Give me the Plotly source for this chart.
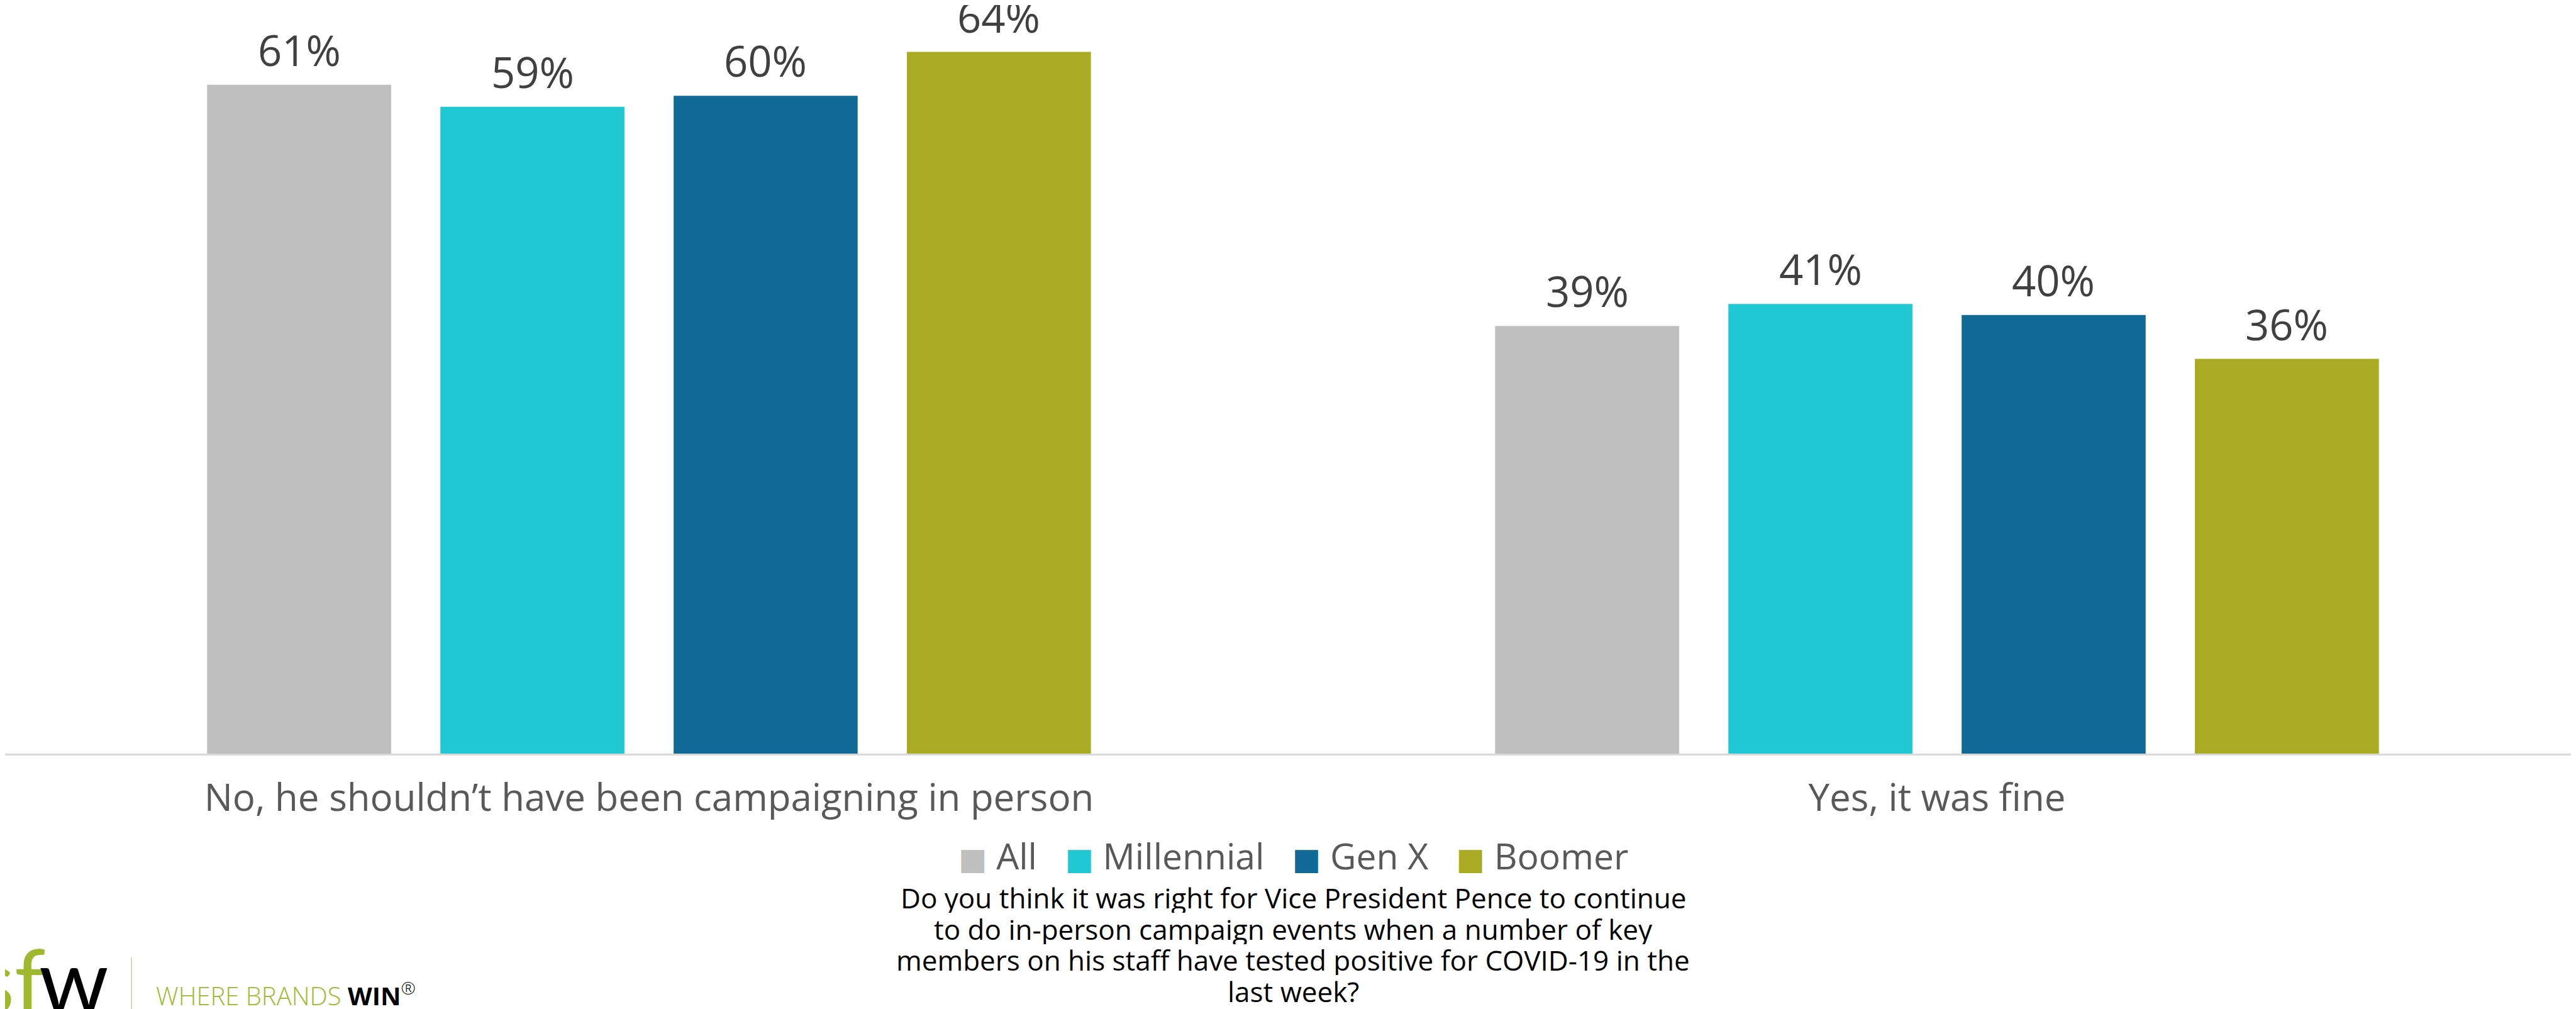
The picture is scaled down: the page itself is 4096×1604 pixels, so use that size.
import plotly.graph_objects as go

categories = ["No, he shouldn\u2019t have been campaigning in person", "Yes, it was fine"]
series_names = ["All", "Millennial", "Gen X", "Boomer"]
all_vals = [61, 39]
millennial_vals = [59, 41]
genx_vals = [60, 40]
boomer_vals = [64, 36]
colors = ["#BFBFBF", "#20C8D3", "#116A96", "#A9AC22"]
question_lines = ["Do you think it was right for Vice President Pence to continue",
                  "to do in-person campaign events when a number of key",
                  "members on his staff have tested positive for COVID-19 in the",
                  "last week?"]

series_vals = [all_vals, millennial_vals, genx_vals, boomer_vals]

W, H = 4096, 1604
MB = 414
HP = H - MB
PER_PCT = 17.43
BARGAP = 0.2756
GROUPGAP = 0.211
FONT = "Open Sans"

def py(Y):
    return (HP - Y) / HP

def px(X):
    return X / W

fig = go.Figure()
for name, vals, col in zip(series_names, series_vals, colors):
    fig.add_trace(go.Bar(x=categories, y=vals, name=name, marker=dict(color=col, line=dict(width=0)),
                         showlegend=False))

annotations = []
n = len(series_names)
slot = (1 - BARGAP) / n
for j, vals in enumerate(series_vals):
    for i, v in enumerate(vals):
        annotations.append(dict(
            x=i + (j - (n - 1) / 2) * slot, y=v, xref="x", yref="y",
            text=f"{v}%", showarrow=False, yanchor="bottom", yshift=8,
            font=dict(family=FONT, size=67, color="#404040")))

# legend (large square swatches)
parts = []
for k, (name, col) in enumerate(zip(series_names, colors)):
    sq = f"<span style='color:{col};font-size:48px;font-family:DejaVu Sans'>\u25A0</span>"
    parts.append(sq + "\u00a0" + name)
legend_text = ("\u00a0" * 3).join(parts)
annotations.append(dict(x=0.5, y=py(1352), xref="paper", yref="paper", text=legend_text,
                        showarrow=False, xanchor="center", yanchor="middle",
                        font=dict(family=FONT, size=57, color="#595959")))

# question, one annotation per line for tighter line spacing
LINE_SP = 49.5
for k, line in enumerate(question_lines):
    annotations.append(dict(x=0.5, y=py(1419 + k * LINE_SP), xref="paper", yref="paper", text=line,
                            showarrow=False, xanchor="center", yanchor="middle", align="center",
                            height=48, valign="middle",
                            font=dict(family=FONT, size=44, color="#000000")))

# logo
annotations.append(dict(x=px(66), y=py(1462), xref="paper", yref="paper",
                        text="sf", showarrow=False, xanchor="right", yanchor="top",
                        font=dict(family="Lato", size=141, color="#9FB92E")))
annotations.append(dict(x=px(52), y=py(1462), xref="paper", yref="paper",
                        text="w", showarrow=False, xanchor="left", yanchor="top",
                        font=dict(family="Lato", size=141, color="#000000")))
annotations.append(dict(x=px(238), y=py(1604), xref="paper", yref="paper",
                        text="<span style='color:#9FB92E'>WHERE BRANDS </span><b>WIN</b><sup>\u00ae</sup>",
                        showarrow=False, xanchor="left", yanchor="bottom",
                        font=dict(family=FONT, size=40, color="#000000", weight=300)))

fig.add_shape(type="line", xref="paper", yref="paper", x0=px(201), x1=px(201),
              y0=py(1514), y1=py(1610), line=dict(color="#C8D29A", width=1.5))

fig.update_layout(
    width=W, height=H,
    barmode="group", bargap=BARGAP, bargroupgap=GROUPGAP,
    margin=dict(l=0, r=0, t=0, b=MB, autoexpand=False),
    paper_bgcolor="white", plot_bgcolor="white",
    annotations=annotations,
    xaxis=dict(showline=True, linecolor="#D9D9D9", linewidth=3, showgrid=False, ticks="",
               tickfont=dict(family=FONT, size=60, color="#595959"), ticklabelstandoff=16),
    yaxis=dict(range=[0, HP / PER_PCT], visible=False, showgrid=False, zeroline=False),
    showlegend=False,
)

fig.write_html("out.html")
